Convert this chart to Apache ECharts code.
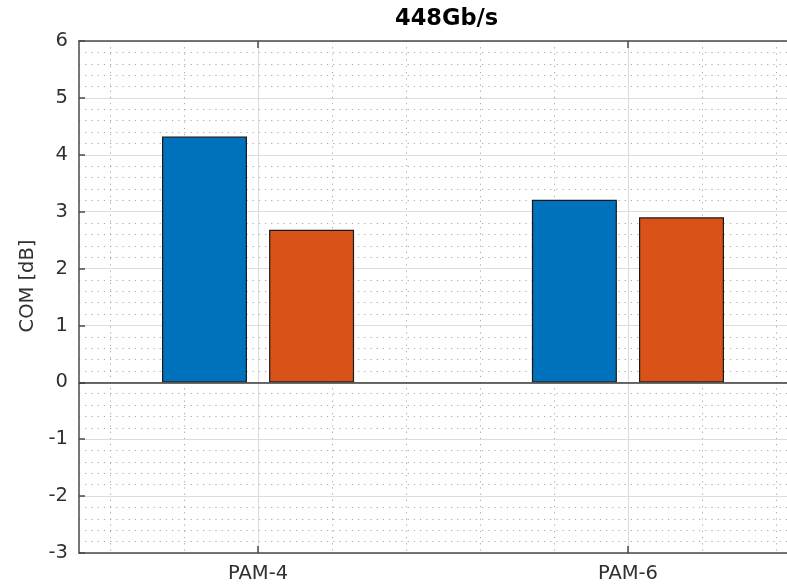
<!DOCTYPE html>
<html>
<head>
<meta charset="utf-8">
<script src="https://cdn.jsdelivr.net/npm/echarts@6/dist/echarts.min.js"></script>
<style>
  html, body { margin: 0; padding: 0; background: #ffffff; }
  #chart { width: 787px; height: 584px; }
</style>
</head>
<body>
<div id="chart"></div>
<script>
// Categories and their positions along the x axis
const categories = ['PAM-4', 'PAM-6'];
const categoryPositions = [1, 2];

// COM values in dB for the two bar series
const seriesA = [4.32, 3.21];
const seriesB = [2.68, 2.90];

// Dotted minor grid positions between / around the categories
const minorXPositions = [0.6, 0.8, 1.2, 1.4, 1.6, 1.8, 2.2, 2.4];

const FONT = 'DejaVu Sans';
const AXIS_COLOR = '#4a4a4a';
const TEXT_COLOR = '#303030';
const MAJOR_GRID = '#dcdcdc';
const MINOR_GRID = '#a8a8a8';

const X_MIN = 0.516;
const X_MAX = 2.43;

function pairs(values) {
  return categoryPositions.map((x, i) => [x, values[i]]);
}

const chart = echarts.init(document.getElementById('chart'), null, { renderer: 'canvas' });

chart.setOption({
  animation: false,
  backgroundColor: '#ffffff',
  title: {
    text: '448Gb/s',
    left: 390,
    top: 3,
    textStyle: { fontFamily: FONT, fontSize: 22.5, fontWeight: 'bold', color: '#000000' }
  },
  grid: { left: 79, right: 0, top: 41, bottom: 30, containLabel: false },
  xAxis: [
    {
      // main axis: bars, category labels, solid major grid
      type: 'value',
      position: 'bottom',
      min: X_MIN,
      max: X_MAX,
      axisLine: { show: true, onZero: false, lineStyle: { color: AXIS_COLOR, width: 1.5 } },
      axisTick: { show: true, inside: true, length: 7, customValues: categoryPositions,
                  lineStyle: { color: AXIS_COLOR, width: 1.5 } },
      axisLabel: {
        show: true, margin: 11, customValues: categoryPositions,
        fontFamily: FONT, fontSize: 19.5, color: TEXT_COLOR,
        formatter: v => categories[categoryPositions.indexOf(Math.round(v))] || ''
      },
      splitLine: { show: true, lineStyle: { color: MAJOR_GRID, width: 1.2, type: 'solid' } }
    },
    {
      // top frame line with its ticks
      type: 'value',
      position: 'top',
      min: X_MIN,
      max: X_MAX,
      axisLine: { show: true, onZero: false, lineStyle: { color: AXIS_COLOR, width: 1.5 } },
      axisTick: { show: true, inside: true, length: 7, customValues: categoryPositions,
                  lineStyle: { color: AXIS_COLOR, width: 1.5 } },
      axisLabel: { show: false },
      splitLine: { show: false }
    },
    {
      // dotted minor grid
      type: 'value',
      position: 'bottom',
      min: X_MIN,
      max: X_MAX,
      axisLine: { show: false },
      axisTick: { show: false, customValues: minorXPositions },
      axisLabel: { show: false, customValues: minorXPositions },
      splitLine: { show: true, lineStyle: { color: MINOR_GRID, width: 1, type: [1.2, 5] } }
    }
  ],
  yAxis: {
    type: 'value',
    min: -3,
    max: 6,
    interval: 1,
    name: 'COM [dB]',
    nameLocation: 'middle',
    nameGap: 40,
    nameRotate: 90,
    nameTextStyle: { fontFamily: FONT, fontSize: 19.5, color: TEXT_COLOR, padding: [0, 0, 0, 22] },
    axisLine: { show: true, onZero: false, lineStyle: { color: AXIS_COLOR, width: 1.5 } },
    axisTick: { show: true, inside: true, length: 6, lineStyle: { color: AXIS_COLOR, width: 1.5 } },
    axisLabel: { margin: 11, fontFamily: FONT, fontSize: 19.5, color: TEXT_COLOR },
    splitLine: { show: true, lineStyle: { color: MAJOR_GRID, width: 1.2 } },
    minorTick: { show: false, splitNumber: 5 },
    minorSplitLine: { show: true, lineStyle: { color: MINOR_GRID, width: 1, type: [1.2, 5] } }
  },
  series: [
    {
      type: 'bar',
      xAxisIndex: 0,
      data: pairs(seriesA),
      barWidth: 85,
      barGap: '26%',
      itemStyle: { color: '#0072BD', borderColor: '#1a1a1a', borderWidth: 1.2 },
      markLine: {
        silent: true,
        symbol: 'none',
        label: { show: false },
        lineStyle: { color: '#3a3a3a', width: 1.5, type: 'solid' },
        data: [{ yAxis: 0 }]
      },
      z: 3
    },
    {
      type: 'bar',
      xAxisIndex: 0,
      data: pairs(seriesB),
      barWidth: 85,
      barGap: '26%',
      itemStyle: { color: '#D95319', borderColor: '#1a1a1a', borderWidth: 1.2 },
      z: 3
    }
  ]
});
</script>
</body>
</html>
